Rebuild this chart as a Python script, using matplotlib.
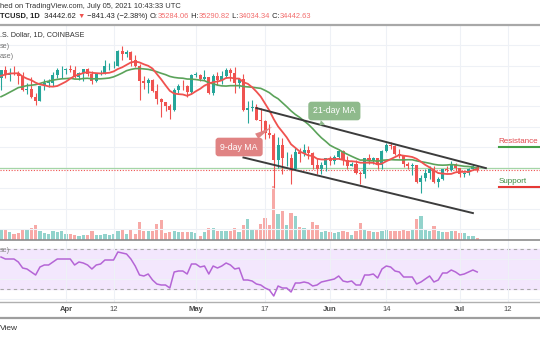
import matplotlib
matplotlib.use("Agg")
import matplotlib.pyplot as plt
import matplotlib.dates as mdates
from matplotlib.lines import Line2D
import pandas as pd

plt.rcParams['font.family'] = ['Liberation Sans', 'DejaVu Sans']

# ---- data (BTC/USD daily, Coinbase) ----
dates = pd.date_range("2021-03-17", "2021-07-05", freq="D")

opens = [56900, 58900, 57600, 58300, 58100, 57400, 54100, 54300, 52300, 51300,
         55000, 55800, 55800, 57600, 58800, 58800, 59100, 59000, 57100, 58200,
         59100, 57900, 56100, 58000, 58100, 59800, 59800, 60000, 63600, 62900,
         63200, 61400, 60000, 56200, 55700, 56500, 53800, 51700, 51200, 50100,
         49100, 54000, 55000, 54900, 53600, 57700, 57800, 56600, 57200, 53200,
         57500, 56400, 57400, 58900, 58300, 55800, 56700, 49200, 49700, 49900,
         46700, 46400, 43500, 42900, 37000, 40600, 37300, 37500, 34700, 38800,
         38400, 39300, 38500, 35700, 34600, 35700, 37300, 36700, 37600, 39200,
         36900, 35500, 35800, 33600, 33400, 37400, 36700, 37300, 35600, 39000,
         40500, 40200, 38300, 38100, 35800, 35500, 35600, 31600, 32500, 33700,
         34700, 31600, 32200, 34700, 34500, 35900, 35000, 33500, 33800, 34700,
         35284]
highs = [58950, 60000, 59400, 59900, 58600, 58400, 55800, 57200, 53200, 55100,
         56600, 56600, 58400, 59400, 59800, 59500, 60200, 59800, 58500, 59200,
         59500, 58700, 58100, 58900, 61300, 60700, 61200, 63800, 64900, 63800,
         63600, 62600, 60400, 57500, 57000, 56800, 55500, 52100, 51200, 50500,
         54400, 55500, 56400, 55200, 58000, 58500, 57900, 58900, 57200, 57900,
         58400, 58600, 59500, 59300, 59600, 56900, 57900, 51400, 51500, 50700,
         49700, 46600, 45800, 43500, 42500, 42200, 38800, 38300, 39900, 39800,
         40800, 40400, 38900, 37300, 36400, 37500, 37900, 38200, 39500, 39300,
         37900, 36500, 36800, 34100, 37500, 38400, 37700, 37500, 39400, 41000,
         41300, 40500, 39600, 38200, 36500, 36100, 35700, 33300, 34800, 35300,
         35500, 32700, 34700, 35300, 36600, 36100, 35000, 33900, 34900, 35900,
         35291]
lows = [54100, 57000, 56300, 57800, 55500, 53700, 53000, 52000, 50400, 51300,
        53900, 54700, 54900, 57000, 56900, 57900, 58500, 56900, 56500, 56300,
        57400, 55500, 55900, 57700, 57900, 59000, 59400, 59900, 61300, 62000,
        60000, 59600, 51500, 54200, 53400, 53600, 50500, 47500, 48800, 47000,
        48800, 53300, 53900, 52400, 53100, 57100, 56100, 56500, 53000, 52900,
        55200, 55400, 56900, 56200, 53400, 54400, 48900, 46000, 48800, 46600,
        43800, 42100, 42200, 30000, 35000, 33500, 35300, 31100, 34400, 36400,
        37800, 37200, 34700, 33400, 33400, 34200, 35700, 35900, 37200, 35600,
        34800, 35300, 33400, 31000, 32400, 35800, 35900, 34600, 34800, 38800,
        39500, 38100, 37400, 35100, 34800, 33300, 31300, 28800, 31700, 32300,
        31300, 30200, 32000, 33900, 34300, 34100, 32700, 32700, 33300, 34500,
        34034]
closes = [58900, 57600, 58300, 58100, 57400, 54100, 54300, 52300, 51300, 55000,
          55800, 55800, 57600, 58800, 58800, 59100, 59000, 57100, 58200, 59100,
          57900, 56100, 58000, 58100, 59800, 59800, 60000, 63600, 62900, 63200,
          61400, 60000, 56200, 55700, 56500, 53800, 51700, 51200, 50100, 49100,
          54000, 55000, 54900, 53600, 57700, 57800, 56600, 57200, 53200, 57500,
          56400, 57400, 58900, 58300, 55800, 56700, 49200, 49700, 49900, 46700,
          46400, 43500, 42900, 37000, 40600, 37300, 37500, 34700, 38800, 38400,
          39300, 38500, 35700, 34600, 35700, 37300, 36700, 37600, 39200, 36900,
          35500, 35800, 33600, 33400, 37400, 36700, 37300, 35600, 39000, 40500,
          40200, 38300, 38100, 35800, 35500, 35600, 31600, 32500, 33700, 34700,
          31600, 32200, 34700, 34500, 35900, 35000, 33500, 33800, 34700, 35300,
          34443]
volume = [23, 23, 17, 13, 14, 20, 20, 25, 30, 19, 14, 12, 18, 17, 18, 12, 12, 10,
          8, 11, 11, 18, 10, 10, 13, 10, 13, 19, 23, 13, 21, 13, 37, 19, 19, 18,
          32, 40, 14, 16, 18, 16, 17, 17, 16, 14, 9, 16, 24, 24, 19, 18, 18, 19,
          25, 17, 30, 42, 23, 23, 32, 45, 30, 108, 52, 58, 30, 54, 48, 27, 25, 21,
          37, 30, 17, 18, 17, 15, 16, 19, 16, 10, 19, 35, 23, 19, 17, 17, 18, 23,
          19, 19, 18, 21, 18, 21, 42, 49, 23, 19, 28, 19, 17, 16, 18, 18, 14, 14,
          8, 8, 4]
ma9 = [57490, 57790, 58060, 58090, 58110, 57320, 56800, 56430, 55810, 55380,
       55180, 54900, 54840, 55000, 55520, 56060, 56800, 57440, 57800, 58170,
       58400, 58230, 58140, 58070, 58140, 58230, 58560, 59160, 59580, 60170,
       60760, 60980, 60770, 60310, 59940, 59260, 57930, 56630, 55180, 53810,
       53140, 53010, 52920, 52600, 53030, 53710, 54310, 55100, 55560, 55940,
       56100, 56380, 56970, 57030, 56810, 56820, 55930, 55540, 54700, 53620,
       52400, 50690, 48980, 46890, 45100, 43780, 42420, 40730, 39860, 38970,
       38500, 38010, 37870, 37200, 37020, 37000, 37220, 37090, 37180, 36910,
       36580, 36590, 36480, 36220, 36230, 36230, 36200, 35800, 36030, 36590,
       37080, 37600, 38120, 37940, 37810, 37620, 37180, 36460, 35700, 35090,
       34340, 33690, 33570, 33460, 33490, 33870, 33980, 33990, 33990, 34400,
       34640]
ma21 = [52380, 52890, 53460, 54020, 54600, 54820, 55100, 55190, 55330, 55620,
        55950, 56180, 56430, 56610, 56750, 56810, 56900, 56700, 56670, 56830,
        56880, 56750, 56770, 56760, 56840, 56950, 57230, 57680, 58180, 58750,
        59050, 59250, 59270, 59180, 59070, 58830, 58480, 58110, 57780, 57340,
        57100, 56960, 56900, 56700, 56680, 56580, 56430, 56300, 55800, 55540,
        55220, 55030, 54980, 55080, 55080, 55090, 54870, 54780, 54710, 54550,
        54420, 53920, 53350, 52500, 51880, 50900, 49940, 48900, 48020, 47310,
        46450, 45600, 44560, 43400, 42330, 41450, 40500, 39940, 39440, 38820,
        38290, 37790, 37310, 36860, 36880, 36700, 36700, 36600, 36810, 36890,
        36980, 36930, 36910, 36910, 36960, 36950, 36680, 36480, 36300, 36080,
        35830, 35670, 35620, 35660, 35780, 35670, 35510, 35350, 35300, 35130,
        34840]
rsi = [62, 60, 60, 60, 57, 51, 50, 47, 44, 52, 54, 54, 57, 60, 60, 60, 60, 54,
       57, 56, 54, 50, 54, 55, 59, 59, 59, 67, 66, 65, 60, 53, 44, 43, 45, 39,
       35, 34, 34, 31, 47, 48, 48, 45, 55, 55, 52, 53, 45, 53, 51, 53, 56, 54,
       50, 51, 39, 39, 38, 35, 34, 31, 29, 23, 33, 31, 31, 27, 36, 36, 37, 36,
       33, 34, 37, 38, 39, 40, 43, 38, 37, 38, 34, 34, 44, 44, 45, 41, 50, 53,
       52, 48, 47, 42, 42, 42, 35, 37, 40, 43, 37, 39, 46, 46, 49, 47, 44, 45,
       47, 49, 47]

tick_dates = ["2021-04-01", "2021-04-12", "2021-05-01", "2021-05-17",
              "2021-06-01", "2021-06-14", "2021-07-01", "2021-07-12"]
tick_labels = ["Apr", "12", "May", "17", "Jun", "14", "Jul", "12"]

channel_upper_dates = ["2021-05-15", "2021-07-07"]
channel_upper_prices = [49600, 34900]
channel_lower_dates = ["2021-05-12", "2021-07-04"]
channel_lower_prices = [37500, 23900]
resistance_level = 40000
support_level = 30200

# ---- colours ----
UP, DOWN = "#26a69a", "#ef5350"
UP_VOL, DOWN_VOL = "#93d3cc", "#f7aaa7"
GRID = "#eef1f6"

W, H = 540, 340
fig = plt.figure(figsize=(W / 100, H / 100), dpi=100)


def rect(top, bottom):
    return [0, 1 - bottom / H, 1, (bottom - top) / H]


x = mdates.date2num(dates)
d0 = x[0]
xlim = (d0 - 0.23, d0 + 124.5)
up = [c >= o for o, c in zip(opens, closes)]

# volume pane underneath the price axes
vax = fig.add_axes(rect(25, 240))
vax.bar(x, volume, width=0.75, color=[UP_VOL if u else DOWN_VOL for u in up])
vax.set_ylim(0, 430)
vax.set_xlim(xlim)
vax.axis("off")

ax = fig.add_axes(rect(25, 240), facecolor="none")
ax.set_xlim(xlim)
ax.set_ylim(17313, 69924)
ax.set_yticks(range(20000, 70000, 5000))
ax.set_xticks(mdates.datestr2num(tick_dates))
ax.grid(True, color=GRID, lw=0.8)
ax.tick_params(left=False, bottom=False, labelleft=False, labelbottom=False)
for s in ax.spines.values():
    s.set_visible(False)

colors = [UP if u else DOWN for u in up]
ax.vlines(x, lows, highs, colors=colors, lw=0.8, zorder=3)
body_low = [min(o, c) for o, c in zip(opens, closes)]
body_h = [max(abs(c - o), 150) for o, c in zip(opens, closes)]
ax.bar(x, body_h, bottom=body_low, width=0.7, color=colors, zorder=3)

ax.axhline(ma21[-1], color="#a5d6a7", lw=0.9, zorder=2)
ax.axhline(closes[-1], color=DOWN, lw=0.8, ls=(0, (1, 1.5)), zorder=2)

ax.plot(x, ma21, color="#5ba35a", lw=1.2, zorder=4)
ax.plot(x, ma9, color="#f0524f", lw=1.3, zorder=4)

ax.plot(mdates.datestr2num(channel_upper_dates), channel_upper_prices,
        color="#3c3c3c", lw=1.4, zorder=5)
ax.plot(mdates.datestr2num(channel_lower_dates), channel_lower_prices,
        color="#3c3c3c", lw=1.4, zorder=5)

ax.annotate("9-day MA", xy=(d0 + 63.3, 45450), xytext=(d0 + 55.0, 40070),
            color="white", fontsize=6.3, ha="center", va="center", zorder=6,
            bbox=dict(boxstyle="round,pad=0.55,rounding_size=0.35",
                      fc="#e08383", ec="none"),
            arrowprops=dict(arrowstyle="wedge,tail_width=0.7,shrink_factor=0.4",
                            fc="#e08383", ec="none"))
ax.annotate("21-day MA", xy=(d0 + 73.0, 44720), xytext=(d0 + 77.0, 48880),
            color="white", fontsize=6.3, ha="center", va="center", zorder=6,
            bbox=dict(boxstyle="round,pad=0.55,rounding_size=0.35",
                      fc="#8fba8c", ec="none"),
            arrowprops=dict(arrowstyle="wedge,tail_width=0.7,shrink_factor=0.4",
                            fc="#8fba8c", ec="none"))

lvl_x = mdates.datestr2num("2021-07-10")
ax.plot([lvl_x, xlim[1]], [resistance_level] * 2, color="#43a047", lw=1.5, zorder=5)
ax.text(lvl_x - 0.1, resistance_level + 450, "Resistance", color="#e0474c",
        fontsize=5.8, va="bottom", ha="left")
ax.plot([lvl_x, xlim[1]], [support_level] * 2, color="#e53935", lw=1.5, zorder=5)
ax.text(lvl_x - 0.1, support_level + 450, "Support", color="#3d8b40",
        fontsize=5.8, va="bottom", ha="left")

# RSI pane
rax = fig.add_axes(rect(240, 302))
rax.set_xlim(xlim)
rax.set_ylim(17, 79)
rax.axhspan(30, 70, color="#f3e7fd", zorder=0)
for lvl in (70, 30):
    rax.axhline(lvl, color="#a8a8a8", lw=0.8, ls=(0, (3, 3)), zorder=1)
rax.plot(x, rsi, color="#b565d6", lw=1.1, zorder=3)
rax.set_yticks([20, 40, 60])
rax.set_xticks(mdates.datestr2num(tick_dates))
rax.set_xticklabels(tick_labels)
rax.grid(True, color=GRID, lw=0.8, zorder=0)
rax.tick_params(left=False, labelleft=False, length=0, pad=3,
                labelsize=5.5, labelcolor="#4a4a4a")
for lab in rax.get_xticklabels():
    if lab.get_text().isalpha():
        lab.set_fontweight("bold")
for s in rax.spines.values():
    s.set_visible(False)

# pane separators
for y, c, lw in [(25, "#a8a8a8", 1.6), (240, "#8c8c8c", 1.2),
                 (302, "#b0b0b0", 1.0), (318, "#9e9e9e", 1.6)]:
    fig.add_artist(Line2D([0, 1], [1 - y / H] * 2, color=c, lw=lw,
                          transform=fig.transFigure))

# header / legend texts
renderer = fig.canvas.get_renderer()


def runs(x0, y, parts, size):
    xp = x0
    for s, col, wt in parts:
        t = fig.text(xp / W, 1 - y / H, s, color=col, fontsize=size,
                     fontweight=wt, va="center", ha="left")
        xp += t.get_window_extent(renderer=renderer).width


DARK = "#222222"
RED = "#f26d6d"
runs(0, 7, [("hed on TradingView.com, July 05, 2021 10:43:33 UTC", "#333333", "normal")], 5.4)
runs(0, 16, [("TCUSD, 1D", DARK, "bold"), ("  34442.62 ", DARK, "normal"),
             ("\u25bc", DOWN, "normal"), (" \u2212841.43 (\u22122.38%) ", DARK, "normal"),
             ("O:", DARK, "normal"), ("35284.06", RED, "normal"),
             (" H:", DARK, "normal"), ("35290.82", RED, "normal"),
             (" L:", DARK, "normal"), ("34034.34", RED, "normal"),
             (" C:", DARK, "normal"), ("34442.63", RED, "normal")], 5.4)
runs(0, 35, [(".S. Dollar, 1D, COINBASE", "#333333", "normal")], 5.2)
runs(0, 46, [("se)", "#777777", "normal")], 5.2)
runs(0, 56, [("ase)", "#777777", "normal")], 5.2)
runs(0, 251, [("se)", "#888888", "normal")], 5.2)
runs(0, 329, [("View", "#333333", "normal")], 6)

fig.savefig("out.png", dpi=100)
